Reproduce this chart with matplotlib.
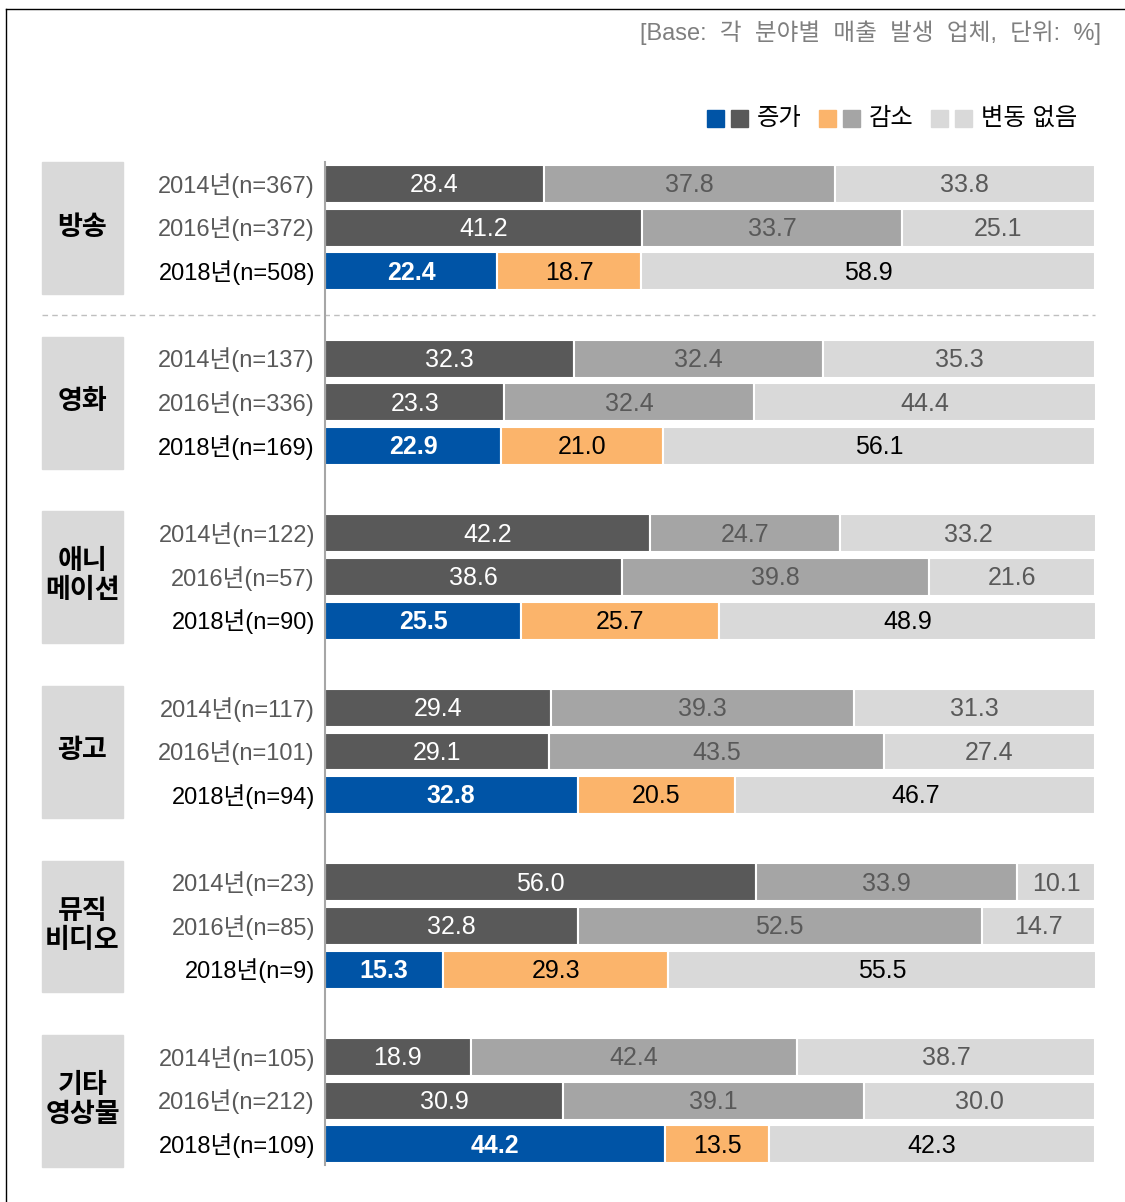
import matplotlib.pyplot as plt
from matplotlib.patches import Rectangle
from matplotlib.lines import Line2D

plt.rcParams['font.family'] = ['Liberation Sans', 'Noto Sans CJK KR']

# data
categories = ['방송', '영화', '애니\n메이션', '광고', '뮤직\n비디오', '기타\n영상물']
years = ['2014년', '2016년', '2018년']
n_values = [[367, 372, 508], [137, 336, 169], [122, 57, 90],
            [117, 101, 94], [23, 85, 9], [105, 212, 109]]
increase = [[28.4, 41.2, 22.4], [32.3, 23.3, 22.9], [42.2, 38.6, 25.5],
            [29.4, 29.1, 32.8], [56.0, 32.8, 15.3], [18.9, 30.9, 44.2]]
decrease = [[37.8, 33.7, 18.7], [32.4, 32.4, 21.0], [24.7, 39.8, 25.7],
            [39.3, 43.5, 20.5], [33.9, 52.5, 29.3], [42.4, 39.1, 13.5]]
no_change = [[33.8, 25.1, 58.9], [35.3, 44.4, 56.1], [33.2, 21.6, 48.9],
             [31.3, 27.4, 46.7], [10.1, 14.7, 55.5], [38.7, 30.0, 42.3]]
legend_labels = ['증가', '감소', '변동 없음']
note = '[Base:  각  분야별  매출  발생  업체,  단위:  %]'

# colours
old_colors = ['#595959', '#A5A5A5', '#D9D9D9']
new_colors = ['#0054A6', '#FBB46B', '#D9D9D9']
old_text = ['white', '#595959', '#595959']
new_text = ['white', 'black', 'black']

fig = plt.figure(figsize=(11.25, 12.02), dpi=100)
ax = fig.add_axes([325 / 1125, 0, 770 / 1125, 1])
ax.set_xlim(0, 100)
ax.set_ylim(23.32, -4.215)
ax.axis('off')

bar_h = 0.87
for g in range(len(categories)):
    for j in range(3):
        y = 4 * g + j
        vals = [increase[g][j], decrease[g][j], no_change[g][j]]
        left = 0
        latest = (j == 2)
        cols = new_colors if latest else old_colors
        tcols = new_text if latest else old_text
        for k, v in enumerate(vals):
            ax.barh(y, v, left=left, height=bar_h, color=cols[k],
                    edgecolor='white', linewidth=1.5)
            bold = latest and k == 0
            ax.text(left + v / 2, y + 0.03, f'{v:.1f}', ha='center', va='center',
                    fontsize=18, color=tcols[k],
                    fontweight='bold' if bold else 'normal')
            left += v
        ax.text(-1.3, y + 0.03, f'{years[j]}(n={n_values[g][j]})', ha='right',
                va='center', fontsize=17, color='black' if latest else '#595959',
                clip_on=False)
    # category box
    ax.add_patch(Rectangle((-36.75, 4 * g - 0.5), 10.52, 3.02, color='#D9D9D9',
                           clip_on=False, zorder=0))
    ax.text(-31.5, 4 * g + 1.0, categories[g], ha='center', va='center',
            fontsize=19.5, fontweight='bold', color='black', linespacing=1.15,
            clip_on=False)

# axis line and separator
ax.plot([0, 0], [-0.5, 22.47], color='#A6A6A6', linewidth=1.5, clip_on=False, zorder=3)
ax.plot([-36.75, 100], [3.0, 3.0], color='#BFBFBF', linewidth=1, linestyle=(0, (4, 3)),
        clip_on=False)

# legend
sq_w = 17 / 7.7
sq_h = 17 / 43.65
leg_y = (119 - 184) / 43.65
pairs = [(new_colors[0], old_colors[0]), (new_colors[1], old_colors[1]),
         (new_colors[2], old_colors[2])]
starts = [707, 819, 931]
for (c1, c2), px, lab in zip(pairs, starts, legend_labels):
    x0 = (px - 325) / 7.7
    ax.add_patch(Rectangle((x0, leg_y - sq_h / 2), sq_w, sq_h, color=c1, clip_on=False))
    ax.add_patch(Rectangle((x0 + 24 / 7.7, leg_y - sq_h / 2), sq_w, sq_h, color=c2,
                           clip_on=False))
    ax.text(x0 + 50 / 7.7, leg_y, lab, ha='left', va='center', fontsize=17.5,
            color='black', clip_on=False)

ax.text((1101 - 325) / 7.7, (33 - 184) / 43.65, note, ha='right', va='center',
        fontsize=17, color='#7F7F7F', clip_on=False)

# frame lines
fig.add_artist(Line2D([6 / 1125, 1], [1 - 9 / 1202, 1 - 9 / 1202], color='black', linewidth=1))
fig.add_artist(Line2D([6 / 1125, 6 / 1125], [0, 1 - 9 / 1202], color='black', linewidth=1))

fig.savefig('out.png', dpi=100)
